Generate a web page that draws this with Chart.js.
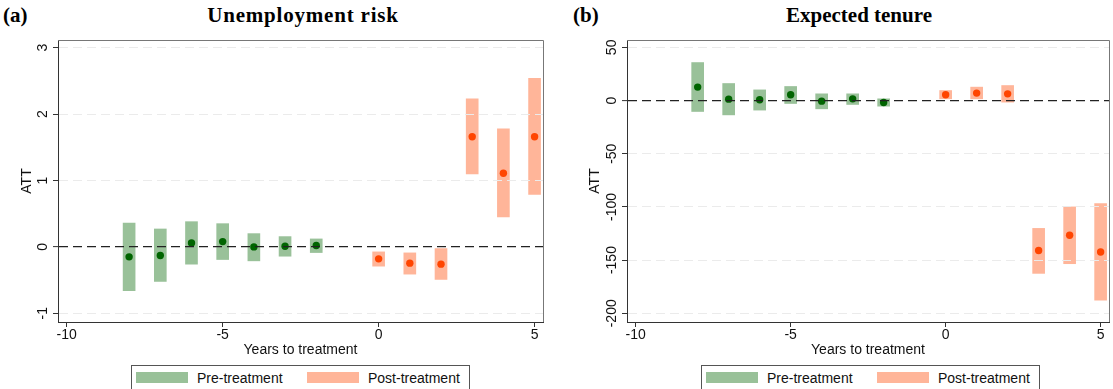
<!DOCTYPE html>
<html lang="en">
<head>
<meta charset="UTF-8">
<title>ATT by years to treatment</title>
<script src="https://cdn.jsdelivr.net/npm/chart.js@4"></script>
<style>
  body { margin: 0; background: #fff; }
  #wrap { position: relative; width: 1113px; height: 389px; overflow: hidden;
          font-family: "Liberation Sans", Arial, sans-serif; color: #111; }
  .tag, .title { position: absolute; top: 2px; font-family: "Liberation Serif", serif;
                 font-weight: bold; font-size: 21px; line-height: 26px; color: #000; }
  .title { width: 300px; text-align: center; }
  canvas { position: absolute; top: 0; }
  .legend { position: absolute; top: 365px; width: 337px; height: 30px;
            border: 1px solid #555; font-size: 14px; }
  .sw { position: absolute; top: 6px; width: 52px; height: 11px; }
  .lt { position: absolute; top: 4px; line-height: 16px; }
</style>
</head>
<body>
<div id="wrap">
  <div class="tag" style="left:3px">(a)</div>
  <div class="title" style="left:153px;letter-spacing:0.8px">Unemployment risk</div>
  <div class="tag" style="left:573px">(b)</div>
  <div class="title" style="left:709px">Expected tenure</div>

  <canvas id="chartA" width="556" height="362" style="left:0"></canvas>
  <canvas id="chartB" width="553" height="362" style="left:560px"></canvas>

  <div class="legend" style="left:131px">
    <div class="sw" style="left:4px;background:rgb(153,193,153)"></div>
    <div class="lt" style="left:65px">Pre-treatment</div>
    <div class="sw" style="left:175px;background:rgb(255,181,153)"></div>
    <div class="lt" style="left:236px">Post-treatment</div>
  </div>
  <div class="legend" style="left:701px">
    <div class="sw" style="left:4px;background:rgb(153,193,153)"></div>
    <div class="lt" style="left:65px">Pre-treatment</div>
    <div class="sw" style="left:175px;background:rgb(255,181,153)"></div>
    <div class="lt" style="left:236px">Post-treatment</div>
  </div>
</div>
<script>
// years relative to treatment
const preYears = [-8, -7, -6, -5, -4, -3, -2];
const postYears = [0, 1, 2, 3, 4, 5];

// (a) Unemployment risk
const unempPreAtt = [-0.15, -0.13, 0.06, 0.08, 0.00, 0.01, 0.02];
const unempPreLo  = [-0.66, -0.52, -0.26, -0.19, -0.21, -0.14, -0.085];
const unempPreHi  = [0.36, 0.27, 0.38, 0.35, 0.20, 0.155, 0.12];
const unempPostAtt = [-0.18, -0.245, -0.26, 1.66, 1.11, 1.66];
const unempPostLo  = [-0.29, -0.41, -0.49, 1.10, 0.45, 0.79];
const unempPostHi  = [-0.075, -0.09, -0.025, 2.23, 1.78, 2.54];

// (b) Expected tenure
const tenurePreAtt = [12.6, 1.3, 0.7, 5.4, -0.6, 1.6, -1.9];
const tenurePreLo  = [-10.3, -13.5, -9, -2.8, -7.8, -3.7, -5.3];
const tenurePreHi  = [35.7, 16, 10, 13.2, 6.3, 6.3, 1.6];
const tenurePostAtt = [5.4, 7, 6.3, -141, -126.7, -142.4];
const tenurePostLo  = [1.6, 1.6, -1.5, -162.5, -153.4, -187.6];
const tenurePostHi  = [9.4, 12.6, 14.1, -120.2, -100, -96.9];

// tick labels
const xTicks = [-10, -5, 0, 5];
const unempTicks = [-1, 0, 1, 2, 3];
const tenureTicks = [-200, -150, -100, -50, 0, 50];

const FONT = { family: '"Liberation Sans", Arial, sans-serif', size: 14 };
const GREEN_CI = 'rgb(153,193,153)', GREEN_PT = '#006400';
const ORANGE_CI = 'rgb(255,181,153)', ORANGE_PT = '#ff4500';

// y tick labels are rotated like in Stata, plus the top/right frame of the plot
const frameAndYLabels = {
  id: 'frameAndYLabels',
  afterDraw(chart) {
    const { ctx, chartArea, scales: { y } } = chart;
    ctx.save();
    ctx.font = '14px "Liberation Sans", Arial, sans-serif';
    ctx.fillStyle = '#111';
    ctx.textAlign = 'center';
    ctx.textBaseline = 'middle';
    y.ticks.forEach(t => {
      ctx.save();
      ctx.translate(chartArea.left - 15, y.getPixelForValue(t.value));
      ctx.rotate(-Math.PI / 2);
      ctx.fillText(String(t.value), 0, 0);
      ctx.restore();
    });
    ctx.strokeStyle = '#777';
    ctx.lineWidth = 1;
    ctx.beginPath();
    ctx.moveTo(chartArea.left, chartArea.top + 0.5);
    ctx.lineTo(chartArea.right + 0.5, chartArea.top + 0.5);
    ctx.lineTo(chartArea.right + 0.5, chartArea.bottom);
    ctx.stroke();
    ctx.restore();
  }
};

function makePanel(id, d) {
  new Chart(document.getElementById(id), {
    type: 'bar',
    data: {
      datasets: [
        {
          type: 'scatter',
          data: preYears.map((x, i) => ({ x, y: d.preAtt[i] })),
          backgroundColor: GREEN_PT, borderWidth: 0, pointRadius: 3.7, order: 0
        },
        {
          type: 'scatter',
          data: postYears.map((x, i) => ({ x, y: d.postAtt[i] })),
          backgroundColor: ORANGE_PT, borderWidth: 0, pointRadius: 3.7, order: 0
        },
        {
          type: 'bar',
          data: preYears.map((x, i) => ({ x, y: [d.preLo[i], d.preHi[i]] })),
          backgroundColor: GREEN_CI, barThickness: 12, grouped: false, order: 1
        },
        {
          type: 'bar',
          data: postYears.map((x, i) => ({ x, y: [d.postLo[i], d.postHi[i]] })),
          backgroundColor: ORANGE_CI, barThickness: 12, grouped: false, order: 1
        }
      ]
    },
    options: {
      responsive: false,
      animation: false,
      events: [],
      layout: { padding: { top: 40, right: d.padRight, left: 0, bottom: 0 } },
      plugins: { legend: { display: false }, tooltip: { enabled: false } },
      scales: {
        x: {
          type: 'linear', min: -10.28, max: 5.27, offset: false,
          afterBuildTicks: s => { s.ticks = xTicks.map(v => ({ value: v })); },
          afterFit: s => { s.height = 40; },
          grid: { offset: false, drawOnChartArea: false, tickLength: 5, tickColor: '#333', tickWidth: 1 },
          border: { color: '#333' },
          ticks: { font: FONT, color: '#111', padding: 0, maxRotation: 0 },
          title: { display: true, text: 'Years to treatment', font: FONT, color: '#111',
                   padding: { top: 0, bottom: 3 } }
        },
        y: {
          type: 'linear', min: d.yMin, max: d.yMax,
          afterBuildTicks: s => { s.ticks = d.yTicks.map(v => ({ value: v })); },
          afterFit: s => { s.width = d.yWidth; },
          ticks: { display: false },
          grid: {
            z: 1,
            color: c => (c.tick && c.tick.value === 0) ? '#222' : '#ebebeb',
            lineWidth: c => (c.tick && c.tick.value === 0) ? 1.2 : 1,
            tickLength: 5, tickColor: '#333', tickWidth: 1, tickBorderDash: []
          },
          border: { z: 1, color: '#333', dash: [9, 5] },
          title: { display: true, text: 'ATT', font: FONT, color: '#111',
                   padding: { top: d.attPad, bottom: 0 } }
        }
      }
    },
    plugins: [frameAndYLabels]
  });
}

makePanel('chartA', {
  preAtt: unempPreAtt, preLo: unempPreLo, preHi: unempPreHi,
  postAtt: unempPostAtt, postLo: unempPostLo, postHi: unempPostHi,
  yTicks: unempTicks, yMin: -1.131, yMax: 3.116,
  yWidth: 58, padRight: 13, attPad: 18.6
});

makePanel('chartB', {
  preAtt: tenurePreAtt, preLo: tenurePreLo, preHi: tenurePreHi,
  postAtt: tenurePostAtt, postLo: tenurePostLo, postHi: tenurePostHi,
  yTicks: tenureTicks, yMin: -208.2, yMax: 56.9,
  yWidth: 67, padRight: 2, attPad: 26.6
});
</script>
</body>
</html>
